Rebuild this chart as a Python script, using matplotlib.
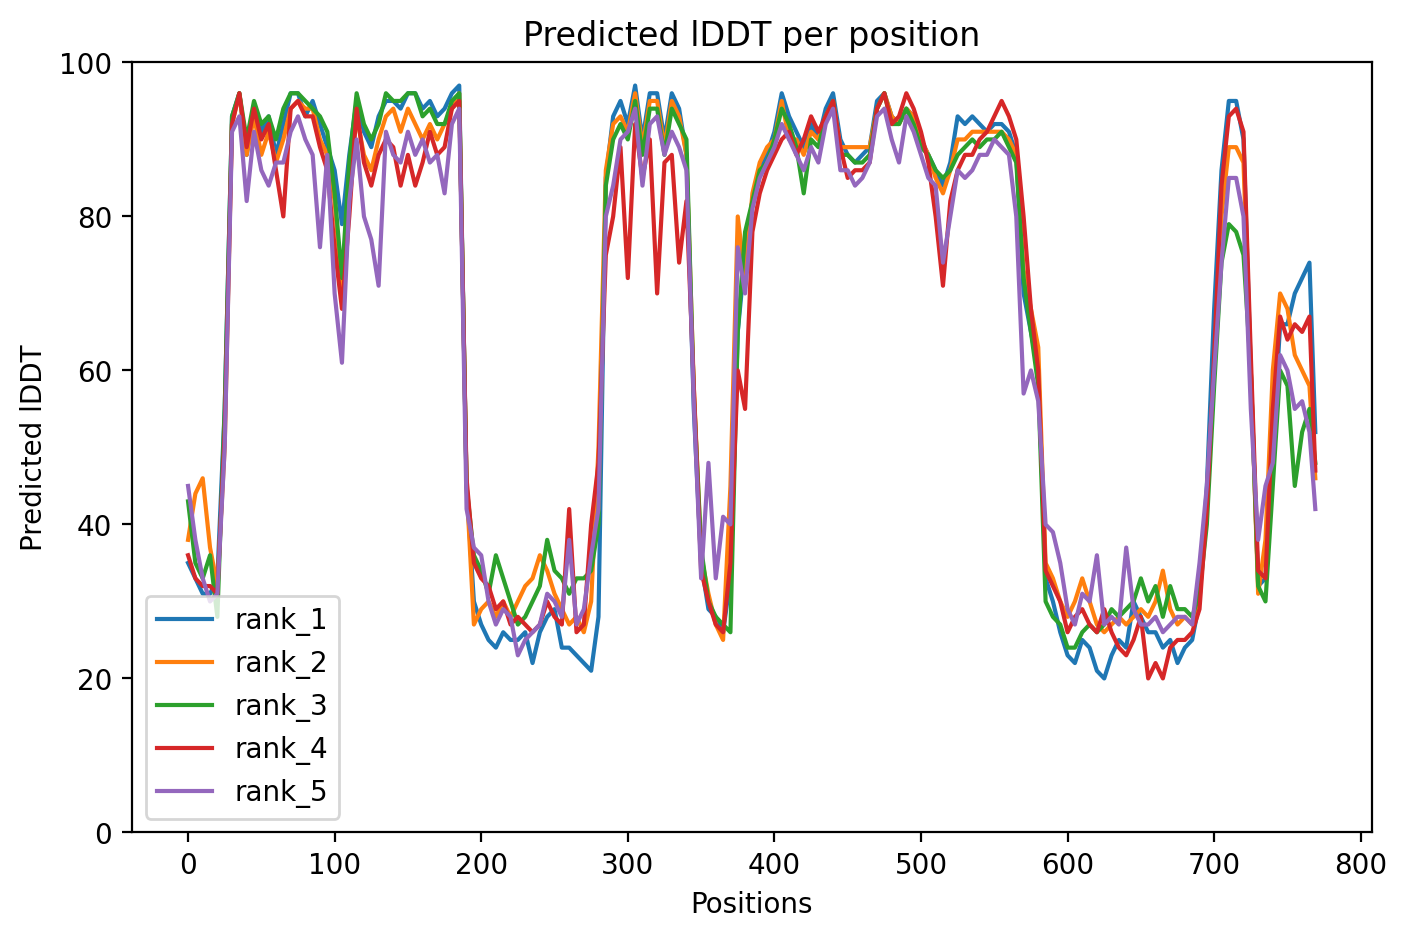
import matplotlib
matplotlib.use("Agg")
import matplotlib.pyplot as plt

positions = list(range(0, 766, 5)) + [769]

rank_1 = [35, 33, 31, 31, 33, 55, 93, 96, 88, 94, 91, 93, 88, 92, 96, 96, 93, 95, 92, 89,
          86, 79, 88, 95, 91, 89, 93, 95, 95, 94, 96, 96, 94, 95, 93, 94, 96, 97, 45, 30,
          27, 25, 24, 26, 25, 25, 26, 22, 26, 28, 29, 24, 24, 23, 22, 21, 28, 85, 93, 95,
          92, 97, 90, 96, 96, 90, 96, 94, 88, 55, 35, 29, 28, 26, 33, 65, 75, 82, 86, 88,
          91, 96, 93, 91, 89, 92, 90, 94, 96, 90, 88, 87, 88, 89, 95, 96, 93, 92, 94, 93,
          90, 88, 86, 84, 87, 93, 92, 93, 92, 91, 92, 92, 91, 88, 70, 65, 60, 33, 30, 26,
          23, 22, 25, 24, 21, 20, 23, 25, 24, 30, 28, 26, 26, 24, 25, 22, 24, 25, 30, 45,
          68, 86, 95, 95, 90, 60, 32, 33, 50, 66, 66, 70, 72, 74, 52]
rank_2 = [38, 44, 46, 37, 32, 50, 92, 96, 88, 93, 88, 91, 87, 90, 94, 95, 94, 94, 90, 88,
          82, 70, 86, 93, 88, 86, 90, 93, 94, 91, 94, 92, 90, 92, 90, 92, 94, 96, 45, 27,
          29, 30, 28, 30, 28, 30, 32, 33, 36, 34, 31, 29, 27, 28, 26, 30, 50, 86, 92, 93,
          91, 96, 89, 95, 95, 89, 95, 93, 88, 58, 36, 31, 27, 25, 45, 80, 72, 83, 87, 89,
          90, 95, 90, 90, 88, 91, 90, 93, 95, 89, 89, 89, 89, 89, 94, 96, 93, 92, 94, 93,
          90, 88, 85, 83, 86, 90, 90, 91, 91, 91, 91, 91, 90, 88, 73, 68, 63, 35, 33, 30,
          28, 30, 33, 30, 27, 26, 27, 28, 27, 28, 29, 28, 30, 34, 29, 27, 28, 27, 31, 44,
          60, 80, 89, 89, 87, 60, 31, 38, 60, 70, 68, 62, 60, 58, 46]
rank_3 = [43, 35, 33, 36, 28, 55, 93, 96, 90, 95, 92, 93, 90, 94, 96, 96, 95, 94, 93, 91,
          83, 72, 87, 96, 92, 90, 92, 96, 95, 95, 96, 96, 93, 94, 92, 92, 95, 96, 45, 36,
          34, 31, 36, 33, 30, 27, 28, 30, 32, 38, 34, 33, 31, 33, 33, 34, 40, 84, 90, 92,
          90, 95, 88, 94, 94, 88, 94, 92, 90, 57, 37, 30, 28, 27, 26, 65, 78, 82, 86, 87,
          90, 94, 92, 89, 83, 90, 89, 93, 95, 88, 88, 87, 87, 88, 94, 96, 92, 92, 94, 92,
          89, 88, 86, 85, 86, 88, 89, 90, 89, 90, 90, 91, 89, 87, 72, 65, 58, 30, 28, 27,
          24, 24, 26, 27, 26, 27, 29, 28, 29, 30, 33, 30, 32, 28, 32, 29, 29, 28, 31, 40,
          58, 74, 79, 78, 75, 60, 32, 30, 45, 60, 58, 45, 52, 55, 48]
rank_4 = [36, 33, 32, 32, 31, 52, 92, 96, 89, 94, 90, 92, 86, 80, 94, 95, 93, 93, 89, 86,
          76, 68, 80, 94, 87, 84, 88, 90, 89, 84, 88, 84, 87, 91, 88, 89, 94, 95, 46, 35,
          33, 32, 29, 30, 27, 28, 27, 26, 27, 30, 28, 27, 42, 26, 27, 40, 48, 75, 80, 89,
          72, 92, 85, 90, 70, 87, 88, 74, 82, 58, 34, 30, 27, 26, 35, 60, 55, 78, 83, 86,
          88, 90, 91, 88, 90, 93, 91, 93, 95, 89, 85, 86, 86, 87, 94, 96, 92, 93, 96, 94,
          91, 87, 80, 71, 82, 86, 88, 88, 90, 91, 93, 95, 93, 90, 80, 68, 60, 34, 32, 30,
          26, 28, 29, 27, 26, 29, 26, 24, 23, 25, 28, 20, 22, 20, 24, 25, 25, 26, 29, 42,
          62, 84, 93, 94, 91, 62, 34, 33, 55, 67, 64, 66, 65, 67, 47]
rank_5 = [45, 38, 33, 30, 31, 50, 91, 93, 82, 91, 86, 84, 87, 87, 91, 93, 90, 88, 76, 88,
          70, 61, 82, 90, 80, 77, 71, 91, 88, 87, 91, 88, 90, 87, 88, 83, 92, 94, 42, 37,
          36, 30, 27, 29, 28, 23, 25, 26, 27, 31, 30, 28, 38, 27, 29, 36, 42, 80, 84, 90,
          91, 94, 84, 92, 93, 88, 91, 89, 86, 56, 33, 48, 33, 41, 40, 76, 70, 81, 85, 87,
          89, 92, 90, 88, 86, 89, 87, 92, 94, 86, 86, 84, 85, 87, 93, 94, 90, 87, 93, 91,
          88, 85, 84, 74, 80, 86, 85, 86, 88, 88, 90, 89, 88, 80, 57, 60, 56, 40, 39, 35,
          29, 27, 31, 30, 36, 27, 28, 27, 37, 29, 27, 27, 28, 26, 27, 28, 28, 27, 35, 45,
          60, 74, 85, 85, 80, 55, 38, 45, 48, 62, 60, 55, 56, 52, 42]

series = {"rank_1": rank_1, "rank_2": rank_2, "rank_3": rank_3,
          "rank_4": rank_4, "rank_5": rank_5}

fig, ax = plt.subplots(figsize=(8, 5), dpi=200)
for name, vals in series.items():
    ax.plot(positions, vals, label=name)
ax.set_ylim(0, 100)
ax.set_title("Predicted lDDT per position")
ax.set_xlabel("Positions")
ax.set_ylabel("Predicted lDDT")
ax.legend(loc="lower left")
fig.savefig("out.png", dpi=200, bbox_inches="tight")
